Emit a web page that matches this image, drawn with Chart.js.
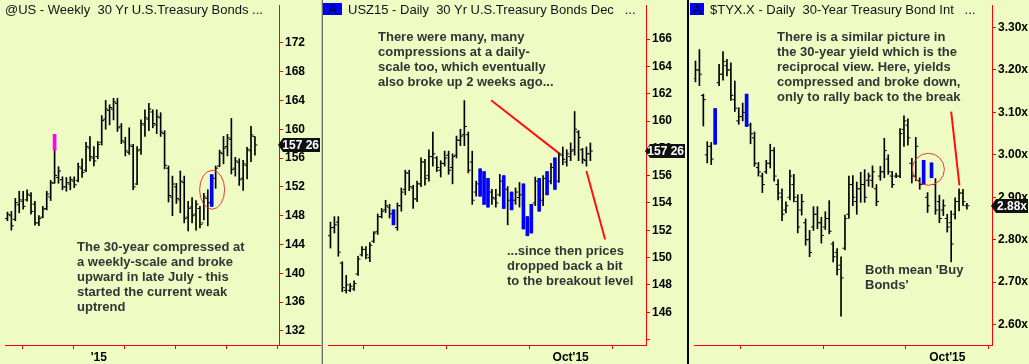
<!DOCTYPE html>
<html>
<head>
<meta charset="utf-8">
<script src="https://cdn.jsdelivr.net/npm/chart.js@4.4.1/dist/chart.umd.min.js"></script>
<style>
body { margin: 0; width: 1029px; height: 364px; overflow: hidden; position: relative; background: #eefcc4; font-family: "Liberation Sans", Arial, sans-serif; }
canvas { position: absolute; top: 0; }
.title { position: absolute; top: 2px; font-size: 13px; line-height: 15px; color: #111; white-space: pre; }
.note { position: absolute; font-size: 13px; font-weight: bold; line-height: 15px; color: #333; white-space: pre; }
.abox { position: absolute; top: 3px; height: 12px; background: #0000ff; color: #000; font-size: 13px; line-height: 13px; text-align: center; }
.sep { position: absolute; top: 0; height: 364px; }
</style>
</head>
<body>
<canvas id="weeklyChart" width="321" height="364" style="left:0"></canvas>
<canvas id="dailyChart" width="363" height="364" style="left:323px"></canvas>
<canvas id="yieldChart" width="340" height="364" style="left:689px"></canvas>

<div class="sep" style="left:321px;width:1px;background:#c4c4c4"></div>
<div class="sep" style="left:322px;width:1px;background:#6a6a6a"></div>
<div class="sep" style="left:687px;width:2px;background:#000"></div>

<div class="title" style="left:5px">@US - Weekly  30 Yr U.S.Treasury Bonds ...</div>
<div class="abox" style="left:323px;width:19px">A</div>
<div class="title" style="left:348px">USZ15 - Daily  30 Yr U.S.Treasury Bonds Dec   ...</div>
<div class="abox" style="left:690px;width:14px">A</div>
<div class="title" style="left:710px">$TYX.X - Daily  30-Year Treasury Bond Int   ...</div>

<div class="note" style="left:77px;top:239px">The 30-year compressed at
a weekly-scale and broke
upward in late July - this
started the current weak
uptrend</div>
<div class="note" style="left:378px;top:29px">There were many, many
compressions at a daily-
scale too, which eventually
also broke up 2 weeks ago...</div>
<div class="note" style="left:507px;top:243px">...since then prices
dropped back a bit
to the breakout level</div>
<div class="note" style="left:777px;top:29px">There is a similar picture in
the 30-year yield which is the
reciprocal view. Here, yields
compressed and broke down,
only to rally back to the break</div>
<div class="note" style="left:865px;top:262px">Both mean 'Buy
Bonds'</div>

<script>
// weekly 30yr bond futures (@US)
const weeklyHigh = [148.5, 148.6, 150.4, 151.4, 151.4, 151.6, 151.2, 150.0, 148.0, 149.3,
    151.4, 152.9, 159.3, 154.8, 153.4, 153.3, 153.4, 153.4, 155.3, 155.9,
    158.2, 159.0, 157.6, 158.3, 161.9, 164.0, 163.4, 164.3, 164.3, 160.8,
    158.9, 160.2, 157.9, 157.6, 161.3, 162.7, 163.6, 162.7, 162.7, 162.3,
    159.8, 154.9, 153.5, 152.5, 154.2, 153.5, 150.0, 150.5, 150.1, 149.3,
    151.1, 151.6, 153.7, 154.9, 157.1, 159.0, 159.3, 161.5, 156.1, 155.9,
    155.7, 157.5, 160.4, 159.0];
const weeklyLow = [147.3, 146.0, 147.3, 148.4, 148.9, 150.0, 148.2, 146.7, 146.6, 147.7,
    148.8, 150.1, 152.5, 152.5, 151.6, 151.4, 151.6, 151.9, 152.7, 153.3,
    154.1, 155.6, 154.9, 155.9, 157.8, 160.0, 160.6, 161.3, 159.7, 158.0,
    156.3, 156.5, 151.6, 152.3, 156.5, 159.0, 159.8, 160.2, 159.4, 159.0,
    154.5, 149.9, 148.0, 149.7, 148.4, 147.0, 145.9, 147.0, 146.0, 146.3,
    147.4, 146.6, 149.3, 151.8, 154.8, 155.2, 156.3, 153.8, 153.5, 152.2,
    151.5, 153.1, 155.5, 156.4];
const weeklyOpen = [147.6, 148.0, 147.5, 149.5, 150.0, 150.2, 150.8, 149.6, 147.0, 147.8,
    149.0, 150.6, 152.5, 153.3, 153.0, 152.0, 152.4, 152.8, 152.9, 154.6,
    154.3, 157.4, 156.0, 156.2, 158.2, 161.4, 162.6, 162.8, 163.6, 160.4,
    158.2, 156.8, 157.6, 152.4, 157.2, 160.6, 161.4, 162.4, 160.6, 161.6,
    159.4, 154.6, 150.6, 152.0, 150.2, 152.6, 147.8, 149.2, 148.2, 149.0,
    147.0, 150.4, 149.6, 153.2, 154.9, 156.6, 157.6, 158.6, 154.6, 155.4,
    153.2, 155.0, 157.0, 159.0];
const weeklyClose = [148.2, 146.6, 149.8, 150.2, 149.3, 151.0, 148.6, 147.0, 147.6, 148.9,
    151.0, 152.6, 153.6, 154.2, 152.0, 152.6, 153.0, 152.3, 154.8, 154.0,
    157.6, 156.2, 155.6, 157.9, 161.2, 162.8, 163.0, 163.8, 160.2, 158.4,
    157.0, 157.8, 152.0, 157.0, 160.8, 161.6, 162.8, 160.8, 161.8, 159.6,
    155.0, 150.8, 152.4, 150.4, 152.8, 147.6, 149.0, 148.0, 149.6, 146.8,
    150.6, 149.8, 153.4, 154.6, 156.8, 157.4, 158.8, 154.4, 155.6, 153.0,
    155.2, 157.2, 159.2, 157.81];
const weeklyBlue = [52];
const weeklyMarkIndex = [12];
const weeklyMarkLow = [157.1];
const weeklyMarkHigh = [159.3];
const weeklyXTicks = [10.25, 23.25, 36.25, 49.25, 62.25];
const weeklyXLabels = ["", "'15", "", "", ""];
const weeklyYTicks = [132, 136, 140, 144, 148, 152, 156, 160, 164, 168, 172];
const weeklyYLabels = ["132", "136", "140", "144", "148", "152", "156", "160", "164", "168", "172"];

// daily Dec 30yr futures (USZ15)
const dailyHigh = [152.6, 153.0, 153.0, 149.7, 148.7, 148.1, 148.3, 150.1, 150.8, 150.8,
    151.1, 151.9, 153.2, 153.6, 154.2, 153.9, 153.5, 154.0, 155.1, 156.4,
    156.4, 155.3, 155.6, 157.3, 157.2, 157.9, 159.2, 157.4, 157.1, 157.8,
    157.8, 157.6, 158.9, 159.4, 161.5, 159.2, 157.8, 155.6, 156.5, 156.3,
    155.8, 155.0, 155.0, 156.1, 156.0, 155.2, 154.8, 155.1, 155.5, 155.4,
    153.0, 153.9, 155.9, 155.8, 156.0, 156.3, 156.9, 157.3, 157.7, 158.1,
    157.9, 158.4, 160.7, 159.3, 158.0, 158.1, 158.4];
const dailyLow = [150.7, 151.8, 150.1, 147.5, 147.4, 147.5, 147.6, 148.7, 150.1, 149.9,
    149.7, 151.1, 151.7, 152.9, 153.3, 152.9, 152.4, 152.0, 153.4, 154.6,
    154.9, 153.6, 154.1, 155.2, 155.3, 155.6, 156.7, 156.3, 155.9, 156.7,
    156.1, 155.4, 157.3, 158.2, 158.2, 156.2, 153.9, 154.5, 154.5, 153.9,
    153.7, 153.9, 153.7, 154.5, 153.6, 152.4, 153.5, 153.9, 153.7, 152.1,
    151.6, 151.8, 153.8, 153.4, 153.8, 154.6, 155.4, 155.0, 155.5, 156.8,
    156.7, 157.1, 157.5, 157.1, 156.9, 156.7, 157.1];
const dailyOpen = [151.6, 152.2, 152.6, 149.6, 147.6, 147.6, 147.7, 148.8, 150.2, 150.6,
    150.0, 151.2, 151.9, 153.0, 153.5, 153.7, 153.4, 152.2, 153.8, 155.0,
    156.2, 155.1, 154.3, 155.4, 157.0, 156.0, 157.4, 157.3, 156.4, 156.9,
    157.5, 156.6, 157.5, 158.6, 159.0, 159.0, 157.0, 154.8, 155.0, 156.0,
    154.4, 154.8, 154.3, 154.6, 154.0, 155.0, 154.6, 154.2, 154.4, 155.0,
    152.6, 152.2, 154.0, 155.4, 154.2, 155.6, 155.6, 155.2, 155.6, 157.5,
    157.0, 157.4, 157.9, 159.2, 157.9, 157.1, 157.6];
const dailyClose = [152.2, 152.4, 150.4, 147.8, 148.0, 147.9, 148.1, 149.9, 150.6, 150.2,
    150.9, 151.8, 153.0, 153.4, 153.8, 153.2, 152.5, 153.8, 154.8, 156.2,
    155.2, 154.3, 155.4, 157.0, 155.8, 157.4, 157.6, 156.6, 156.9, 157.3,
    156.4, 157.4, 158.6, 158.9, 159.6, 156.4, 154.2, 155.4, 156.2, 154.2,
    155.4, 154.4, 154.0, 155.6, 155.6, 154.2, 153.8, 154.8, 154.6, 152.4,
    152.0, 153.6, 155.6, 153.8, 155.8, 154.8, 156.6, 157.0, 157.6, 157.2,
    157.6, 157.8, 159.4, 158.8, 157.2, 157.6, 157.81];
const dailyBlue = [16, 38, 39, 40, 44, 46, 49, 50, 51, 53, 55, 57];
const dailyXTicks = [19, 40, 61];
const dailyXLabels = ["", "", "Oct'15"];
const dailyYTicks = [144, 146, 148, 150, 152, 154, 156, 158, 160, 162, 164, 166];
const dailyYLabels = ["", "146", "148", "150", "152", "154", "156", "158", "160", "162", "164", "166"];

// daily 30yr yield ($TYX.X)
const yieldHigh = [3.221, 3.248, 3.143, 3.031, 3.029, 3.109, 3.213, 3.243, 3.225, 3.217,
    3.174, 3.111, 3.122, 3.143, 3.075, 3.054, 2.982, 2.957, 2.987, 3.025,
    3.017, 2.942, 2.920, 2.889, 2.964, 2.954, 2.906, 2.907, 2.849, 2.822,
    2.878, 2.878, 2.853, 2.866, 2.892, 2.795, 2.779, 2.760, 2.858, 2.950,
    2.951, 2.936, 2.959, 2.965, 2.957, 2.974, 2.930, 2.973, 3.039, 3.000,
    2.961, 2.957, 3.062, 3.092, 3.085, 2.992, 3.041, 2.946, 2.987, 2.911,
    2.981, 2.944, 2.905, 2.894, 2.860, 2.868, 2.899, 2.920, 2.919, 2.886];
const yieldLow = [3.172, 3.163, 3.068, 2.981, 2.977, 3.025, 3.163, 3.176, 3.186, 3.128,
    3.102, 3.072, 3.080, 3.067, 3.026, 2.973, 2.950, 2.911, 2.956, 2.969,
    2.938, 2.894, 2.845, 2.863, 2.894, 2.889, 2.816, 2.858, 2.787, 2.760,
    2.822, 2.826, 2.792, 2.824, 2.814, 2.748, 2.717, 2.620, 2.776, 2.850,
    2.880, 2.860, 2.888, 2.888, 2.926, 2.923, 2.880, 2.940, 2.946, 2.954,
    2.923, 2.946, 2.946, 3.020, 3.023, 2.934, 2.939, 2.919, 2.930, 2.864,
    2.946, 2.860, 2.840, 2.857, 2.818, 2.748, 2.849, 2.868, 2.880, 2.872];
const yieldOpen = [3.18, 3.20, 3.14, 3.00, 3.02, 3.03, 3.17, 3.19, 3.21, 3.20,
    3.13, 3.08, 3.09, 3.07, 3.07, 3.04, 2.97, 2.95, 2.96, 2.98,
    3.01, 2.93, 2.90, 2.87, 2.90, 2.93, 2.89, 2.87, 2.84, 2.80,
    2.83, 2.86, 2.84, 2.83, 2.85, 2.79, 2.77, 2.74, 2.78, 2.86,
    2.93, 2.89, 2.92, 2.93, 2.94, 2.94, 2.92, 2.95, 2.96, 2.99,
    2.95, 2.95, 2.95, 3.06, 3.07, 2.98, 2.95, 2.94, 2.93, 2.90,
    2.95, 2.93, 2.89, 2.87, 2.85, 2.84, 2.86, 2.89, 2.91, 2.88];
const yieldClose = [3.20, 3.19, 3.13, 3.02, 2.99, 3.10, 3.19, 3.22, 3.20, 3.14,
    3.11, 3.09, 3.10, 3.14, 3.05, 2.98, 2.96, 2.93, 2.98, 3.01,
    2.95, 2.91, 2.86, 2.88, 2.95, 2.90, 2.83, 2.89, 2.80, 2.77,
    2.86, 2.84, 2.81, 2.85, 2.82, 2.76, 2.73, 2.71, 2.85, 2.93,
    2.90, 2.92, 2.93, 2.90, 2.95, 2.96, 2.89, 2.96, 3.01, 2.96,
    2.93, 2.95, 3.05, 3.08, 3.04, 2.95, 3.02, 2.93, 2.98, 2.88,
    2.97, 2.87, 2.85, 2.88, 2.83, 2.79, 2.89, 2.91, 2.89, 2.88];
const yieldBlue = [5, 13, 58, 60];
const yieldXTicks = [22, 43, 64];
const yieldXLabels = ["", "", "Oct'15"];
const yieldYTicks = [2.6, 2.7, 2.8, 2.9, 3.0, 3.1, 3.2, 3.3];
const yieldYLabels = ["2.60x", "2.70x", "2.80x", "2.90x", "3.00x", "3.10x", "3.20x", "3.30x"];

const axisFont = { family: "'Liberation Sans', Arial, sans-serif", size: 12, weight: "bold" };
const axisRed = "#ff0000";

// red pen lines, circles and the last-price tag
const marksPlugin = {
    id: "marks",
    afterDraw: function (chart, args, opts) {
        const ctx = chart.ctx;
        const xs = chart.scales.x;
        const ys = chart.scales.y;
        const area = chart.chartArea;

        ctx.save();
        if (opts.extendAxis) {
            ctx.strokeStyle = axisRed;
            ctx.lineWidth = 1;
            ctx.beginPath();
            ctx.moveTo(area.right, Math.round(area.bottom) + 0.5);
            ctx.lineTo(chart.width, Math.round(area.bottom) + 0.5);
            ctx.stroke();
        }

        ctx.strokeStyle = "#ff1010";
        ctx.lineWidth = 2;
        (opts.lines || []).forEach(function (l) {
            ctx.beginPath();
            ctx.moveTo(xs.getPixelForValue(l[0]), ys.getPixelForValue(l[1]));
            ctx.lineTo(xs.getPixelForValue(l[2]), ys.getPixelForValue(l[3]));
            ctx.stroke();
        });

        ctx.strokeStyle = "#e83a3a";
        ctx.lineWidth = 1;
        (opts.rings || []).forEach(function (r) {
            ctx.beginPath();
            ctx.ellipse(xs.getPixelForValue(r.x), ys.getPixelForValue(r.y), r.rx, r.ry, 0, 0, Math.PI * 2);
            ctx.stroke();
        });

        if (opts.badge) {
            const y = Math.round(ys.getPixelForValue(opts.badge.value));
            const left = area.right - 1;
            const right = chart.width - 1;
            ctx.fillStyle = "#111";
            ctx.beginPath();
            ctx.moveTo(left, y);
            ctx.lineTo(left + 5, y - 7);
            ctx.lineTo(right, y - 7);
            ctx.lineTo(right, y + 7);
            ctx.lineTo(left + 5, y + 7);
            ctx.closePath();
            ctx.fill();
            ctx.fillStyle = "#fff";
            ctx.font = "bold 12px 'Liberation Sans', Arial, sans-serif";
            ctx.textAlign = "right";
            ctx.textBaseline = "middle";
            ctx.fillText(opts.badge.text, right - 1, y + 1);
        }
        ctx.restore();
    }
};

function drawPanel(canvasId, p) {
    const bars = p.high.map(function (h, i) { return { x: i, y: [p.low[i], h] }; });
    const blueBars = p.blue.map(function (i) { return { x: i, y: [p.low[i], p.high[i]] }; });
    const opens = [];
    const closes = [];
    p.open.forEach(function (o, i) {
        if (p.blue.indexOf(i) >= 0) {
            return;
        }
        opens.push({ x: i - 0.375, y: o });
        closes.push({ x: i + 0.375, y: p.close[i] });
    });

    const datasets = [
        { type: "bar", data: blueBars, backgroundColor: "#0000ff", barThickness: p.blueWidth, grouped: false, order: 0 },
        { type: "scatter", data: opens, pointStyle: "line", pointRadius: 1, borderColor: "#000", borderWidth: 1, order: 1 },
        { type: "scatter", data: closes, pointStyle: "line", pointRadius: 1, borderColor: "#000", borderWidth: 1, order: 1 },
        { type: "bar", data: bars, backgroundColor: "#000", barThickness: p.barWidth, grouped: false, order: 2 }
    ];
    if (p.mark) {
        datasets.unshift({
            type: "bar",
            data: p.mark.index.map(function (i, k) { return { x: i, y: [p.mark.low[k], p.mark.high[k]] }; }),
            backgroundColor: "#ff00ff",
            barThickness: 3,
            grouped: false,
            order: 0
        });
    }

    new Chart(document.getElementById(canvasId), {
        type: "bar",
        data: { datasets: datasets },
        plugins: [marksPlugin],
        options: {
            responsive: false,
            animation: false,
            events: [],
            layout: { padding: 0 },
            plugins: {
                legend: { display: false },
                tooltip: { enabled: false },
                marks: p.marks
            },
            scales: {
                x: {
                    type: "linear",
                    position: "bottom",
                    min: p.xMin,
                    max: p.xMax,
                    offset: false,
                    bounds: "data",
                    afterBuildTicks: function (scale) {
                        scale.ticks = p.xTicks.map(function (v) { return { value: v }; });
                    },
                    afterFit: function (scale) {
                        scale.height = 19;
                        scale.paddingLeft = 0;
                        scale.paddingRight = 0;
                    },
                    ticks: {
                        autoSkip: false,
                        maxRotation: 0,
                        color: "#000",
                        font: axisFont,
                        padding: 1,
                        callback: function (v) {
                            const k = p.xTicks.indexOf(v);
                            return k >= 0 ? p.xLabels[k] : "";
                        }
                    },
                    grid: { drawOnChartArea: false, drawTicks: true, tickLength: 4, color: axisRed },
                    border: { color: axisRed, width: 1 }
                },
                y: {
                    type: "linear",
                    position: "right",
                    min: p.yMin,
                    max: p.yMax,
                    bounds: "data",
                    afterBuildTicks: function (scale) {
                        scale.ticks = p.yTicks.map(function (v) { return { value: v }; });
                    },
                    afterFit: function (scale) {
                        scale.width = p.axisWidth;
                        scale.paddingTop = 0;
                        scale.paddingBottom = 0;
                    },
                    ticks: {
                        color: "#000",
                        font: axisFont,
                        padding: 2,
                        callback: function (v) {
                            const k = p.yTicks.indexOf(v);
                            return k >= 0 ? p.yLabels[k] : "";
                        }
                    },
                    grid: { drawOnChartArea: false, drawTicks: true, tickLength: 4, color: axisRed },
                    border: { color: axisRed, width: 1 }
                }
            }
        }
    });
}

drawPanel("weeklyChart", {
    high: weeklyHigh, low: weeklyLow, open: weeklyOpen, close: weeklyClose,
    blue: weeklyBlue, barWidth: 1, blueWidth: 3,
    mark: { index: weeklyMarkIndex, low: weeklyMarkLow, high: weeklyMarkHigh },
    xMin: -0.625, xMax: 69.125, xTicks: weeklyXTicks, xLabels: weeklyXLabels,
    yMin: 130.05, yMax: 177.25, yTicks: weeklyYTicks, yLabels: weeklyYLabels,
    axisWidth: 42,
    marks: {
        extendAxis: true,
        rings: [{ x: 52.1, y: 151.6, rx: 12.5, ry: 19.5 }],
        badge: { value: 157.8125, text: "157 26" }
    }
});

drawPanel("dailyChart", {
    high: dailyHigh, low: dailyLow, open: dailyOpen, close: dailyClose,
    blue: dailyBlue, barWidth: 1, blueWidth: 3,
    xMin: -0.625, xMax: 80.125, xTicks: dailyXTicks, xLabels: dailyXLabels,
    yMin: 143.6, yMax: 168.5, yTicks: dailyYTicks, yLabels: dailyYLabels,
    axisWidth: 40,
    marks: {
        lines: [[40.8, 161.52, 57.9, 157.67], [65.0, 156.35, 69.75, 151.32]],
        badge: { value: 157.8125, text: "157 26" }
    }
});

drawPanel("yieldChart", {
    high: yieldHigh, low: yieldLow, open: yieldOpen, close: yieldClose,
    blue: yieldBlue, barWidth: 1, blueWidth: 3,
    xMin: -0.375, xMax: 75.375, xTicks: yieldXTicks, xLabels: yieldXLabels,
    yMin: 2.552, yMax: 3.353, yTicks: yieldYTicks, yLabels: yieldYLabels,
    axisWidth: 37,
    marks: {
        lines: [[65.0, 3.102, 67.1, 2.928]],
        rings: [{ x: 59.2, y: 2.966, rx: 16, ry: 16 }],
        badge: { value: 2.88, text: "2.88x" }
    }
});
</script>
</body>
</html>
